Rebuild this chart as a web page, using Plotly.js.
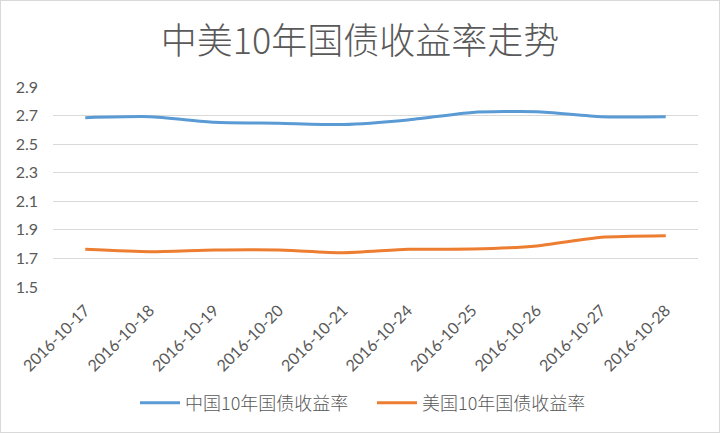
<!DOCTYPE html>
<html>
<head>
<meta charset="utf-8">
<script src="https://cdn.plot.ly/plotly-3.0.1.min.js"></script>
<style>
html,body{margin:0;padding:0;background:#fff;}
#chart{width:720px;height:433px;box-sizing:border-box;border:1px solid #d9d9d9;}
</style>
</head>
<body>
<div id="chart"></div>
<script>
const dates = ["2016-10-17","2016-10-18","2016-10-19","2016-10-20","2016-10-21","2016-10-24","2016-10-25","2016-10-26","2016-10-27","2016-10-28"];
const chinaYield = [2.685, 2.692, 2.653, 2.646, 2.637, 2.669, 2.722, 2.727, 2.692, 2.692];
const usYield = [1.764, 1.747, 1.759, 1.759, 1.740, 1.764, 1.766, 1.787, 1.848, 1.859];
const seriesNames = ["中国10年国债收益率", "美国10年国债收益率"];
const yTicks = [1.5, 1.7, 1.9, 2.1, 2.3, 2.5, 2.7, 2.9];

const fontFam = "Lato, 'Noto Sans CJK SC', sans-serif";
const traces = [
  {x: dates, y: chinaYield, name: seriesNames[0], type: "scatter", mode: "lines",
   line: {color: "#5B9BD5", width: 3, shape: "spline", smoothing: 0.6}},
  {x: dates, y: usYield, name: seriesNames[1], type: "scatter", mode: "lines",
   line: {color: "#ED7D31", width: 3, shape: "spline", smoothing: 0.6}}
];
const layout = {
  width: 718, height: 431,
  margin: {l: 52, r: 21, t: 86, b: 145},
  paper_bgcolor: "#fff", plot_bgcolor: "#fff",
  font: {family: fontFam, color: "#595959", size: 14},
  title: {text: "中美10年国债收益率走势", x: 0.5, xanchor: "center", xref: "container",
          y: 1 - 40/431, yanchor: "middle", yref: "container",
          font: {family: "'Noto Sans CJK SC', sans-serif", size: 36, color: "#595959", weight: 300}},
  xaxis: {type: "category", range: [-0.5, 9.5], tickangle: -45, showgrid: false,
          showline: false, ticks: "", tickfont: {size: 16, color: "#595959"}, zeroline: false,
          ticklabelstandoff: 10},
  yaxis: {range: [1.5, 2.9], tickvals: yTicks, ticktext: yTicks.map(v => v.toFixed(1)),
          showgrid: true, gridcolor: "#d9d9d9", gridwidth: 1, zeroline: false, showline: false,
          ticks: "", tickfont: {size: 16, color: "#595959"}, ticklabelstandoff: 14},
  legend: {orientation: "h", x: 0.5 + 12/718, xanchor: "center", xref: "container",
           y: 1 - 402/431, yanchor: "middle", yref: "container",
           font: {family: "'Noto Sans CJK SC', sans-serif", size: 18, color: "#595959", weight: 300},
           itemwidth: 40, traceorder: "normal", entrywidth: 182, entrywidthmode: "pixels"},
  showlegend: true
};
Plotly.newPlot("chart", traces, layout, {displayModeBar: false, staticPlot: true});
</script>
</body>
</html>
